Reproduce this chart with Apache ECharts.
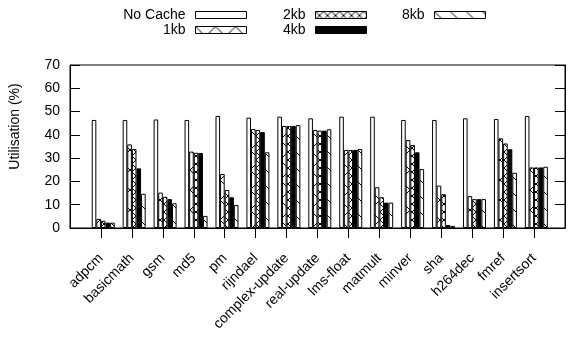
<!DOCTYPE html>
<html>
<head>
<meta charset="utf-8">
<script src="https://cdn.jsdelivr.net/npm/echarts@6/dist/echarts.min.js"></script>
<style>
html,body{margin:0;padding:0;background:#fff;}
#chart{width:571px;height:343px;}
</style>
</head>
<body>
<div id="chart"></div>
<script>
const categories = ['adpcm','basicmath','gsm','md5','pm','rijndael','complex-update','real-update','lms-float','matmult','minver','sha','h264dec','fmref','insertsort'];
const seriesNames = ['No Cache','1kb','2kb','4kb','8kb'];
const noCache = [46.4, 46.4, 46.6, 46.4, 48.1, 47.4, 47.8, 47.1, 47.8, 47.8, 46.4, 46.4, 47.1, 46.8, 48.1];
const kb1 =     [3.9, 35.9, 15.2, 32.8, 23.2, 42.5, 43.8, 42.1, 33.5, 17.5, 37.8, 18.2, 13.7, 38.5, 26.0];
const kb2 =     [3.1, 33.9, 13.4, 32.3, 16.3, 42.1, 43.8, 41.8, 33.5, 13.2, 35.6, 14.5, 12.4, 36.3, 26.0];
const kb4 =     [2.3, 25.6, 12.4, 32.2, 13.2, 41.2, 43.8, 41.8, 33.5, 10.9, 32.5, 1.3, 12.4, 33.8, 26.0];
const kb8 =     [2.3, 14.7, 10.6, 5.2, 9.9, 32.5, 44.2, 42.4, 33.9, 10.9, 25.3, 0.9, 12.4, 23.7, 26.3];
const yMin = 0, yMax = 70, yStep = 10;

const FONT = 'Liberation Sans, Arial, Helvetica, sans-serif';

function makePattern(size, draw) {
  const c = document.createElement('canvas');
  c.width = size; c.height = size;
  const ctx = c.getContext('2d');
  ctx.fillStyle = '#fff';
  ctx.fillRect(0, 0, size, size);
  ctx.strokeStyle = '#000';
  ctx.lineWidth = 1;
  draw(ctx, size);
  return { image: c, repeat: 'repeat' };
}
function back(ctx, s) { // "\"
  ctx.beginPath();
  ctx.moveTo(-1, -1); ctx.lineTo(s + 1, s + 1);
  ctx.stroke();
}
function fwd(ctx, s) { // "/"
  ctx.beginPath();
  ctx.moveTo(-1, s + 1); ctx.lineTo(s + 1, -1);
  ctx.stroke();
}
const fills = [
  '#ffffff',
  makePattern(20, (c, s) => { back(c, s); fwd(c, s); }),
  makePattern(8, (c, s) => { back(c, s); fwd(c, s); }),
  '#000000',
  makePattern(16, (c, s) => { back(c, s); })
];
const values = [noCache, kb1, kb2, kb4, kb8];

const pad = arr => ['-'].concat(arr, ['-']);
const xData = [''].concat(categories, ['']);

const series = [{
  name: 'pad', type: 'bar', barWidth: 4.6, barGap: '0%', silent: true,
  data: pad(categories.map(() => 0)),
  itemStyle: { color: 'rgba(0,0,0,0)', borderWidth: 0 }
}];
seriesNames.forEach((n, i) => {
  series.push({
    name: n, type: 'bar', barWidth: 4.6, barGap: '0%',
    data: pad(values[i]),
    itemStyle: { color: fills[i], borderColor: '#000', borderWidth: 1 },
    emphasis: { disabled: true }
  });
});

const legendPos = [
  { right: 324, top: 8 },
  { right: 324, top: 23 },
  { right: 204, top: 8 },
  { right: 204, top: 23 },
  { right: 85, top: 8 }
];
const legends = seriesNames.map((n, i) => Object.assign({
  data: [n], align: 'right', orient: 'horizontal', padding: 0,
  itemWidth: 51, itemHeight: 7, icon: 'rect', selectedMode: false,
  itemStyle: { borderColor: '#000', borderWidth: 1 },
  textStyle: { fontFamily: FONT, fontSize: 14, color: '#000', padding: [0, 5, 0, 0] }
}, legendPos[i]));

const chart = echarts.init(document.getElementById('chart'), null, { renderer: 'canvas' });
chart.setOption({
  animation: false,
  backgroundColor: '#fff',
  legend: legends,
  grid: { left: 68, top: 65, width: 497, height: 163, show: true, borderColor: '#000', borderWidth: 1, backgroundColor: 'rgba(0,0,0,0)' },
  xAxis: {
    type: 'category', data: xData, boundaryGap: false,
    axisLine: { lineStyle: { color: '#000', width: 1 } },
    axisTick: { inside: false, length: 10, interval: (idx) => idx > 0 && idx < xData.length - 1, lineStyle: { color: '#000' } },
    axisLabel: { interval: 0, rotate: 45, margin: 28, fontFamily: FONT, fontSize: 14, color: '#000' },
    splitLine: { show: false }
  },
  yAxis: [{
    type: 'value', position: 'left', min: yMin, max: yMax, interval: yStep,
    name: 'Utilisation (%)', nameLocation: 'middle', nameGap: 48,
    nameTextStyle: { fontFamily: FONT, fontSize: 14, color: '#000', padding: [0, 0, 0, 40] },
    axisLine: { show: true, lineStyle: { color: '#000', width: 1 } },
    axisTick: { show: true, inside: true, length: 10, lineStyle: { color: '#000' } },
    axisLabel: { margin: 10, fontFamily: FONT, fontSize: 14, color: '#000' },
    splitLine: { show: false }
  }, {
    type: 'value', position: 'right', min: yMin, max: yMax, interval: yStep,
    axisLine: { show: true, lineStyle: { color: '#000', width: 1 } },
    axisTick: { show: true, inside: true, length: 10, lineStyle: { color: '#000' } },
    axisLabel: { show: false },
    splitLine: { show: false }
  }],
  series: series
});
</script>
</body>
</html>
